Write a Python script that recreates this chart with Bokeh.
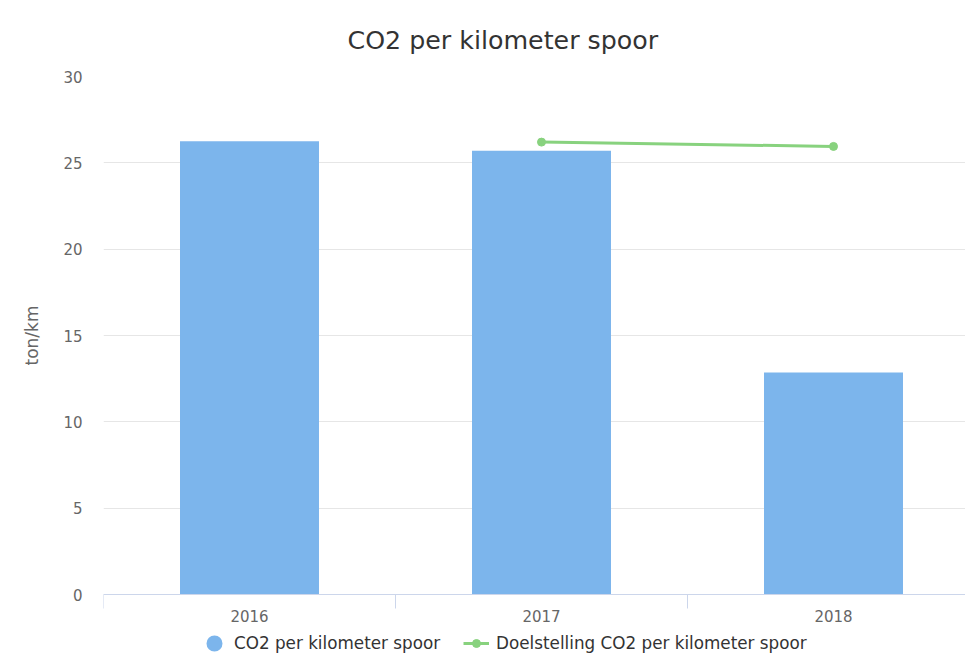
import math
from bokeh.plotting import figure
from bokeh.models import Range1d, FixedTicker, Legend, LegendItem, ColumnDataSource, Span, Title
from bokeh.core.properties import value
from bokeh.embed import file_html
from bokeh.resources import INLINE

# ---- data ----
years = ["2016", "2017", "2018"]
co2_per_km = [26.25, 25.7, 12.85]
target_years = ["2017", "2018"]
target_per_km = [26.2, 25.95]
y_ticks = [0, 5, 10, 15, 20, 25, 30]

FONT = "DejaVu Sans"
BAR_COLOR = "#7cb5ec"
LINE_COLOR = "#88d27e"
AXIS_COLOR = "#ccd6eb"

W, H = 965, 655
LEFT, TOP, BOTTOM = 103, 76, 594   # y=30 at TOP, y=0 at BOTTOM
CAT_W = 292
Y_MAX = 30
px_per_unit = (BOTTOM - TOP) / Y_MAX
y_min = -(H - BOTTOM) / px_per_unit    # frame continues below 0 to hold the legend

bar_x = [years.index(y) + 0.5 for y in years]
line_x = [years.index(y) + 0.5 for y in target_years]
bounds = [i for i in range(len(years) + 1)]

p = figure(width=W, height=H, output_backend="svg", toolbar_location=None,
           x_axis_location=None,
           x_range=Range1d(0, (W - LEFT) / CAT_W), y_range=Range1d(y_min, Y_MAX),
           min_border_left=LEFT, min_border_right=0, min_border_top=TOP,
           min_border_bottom=0)
p.outline_line_color = None
p.background_fill_color = "white"

# title
p.title.text = "CO2 per kilometer spoor"
p.title.text_font = FONT
p.title.text_font_size = "25.3px"
p.title.text_font_style = "normal"
p.title.text_color = "#333333"
p.title.align = "left"
p.title.offset = 244
p.title.standoff = 44

# bars
bar_src = ColumnDataSource(dict(x=bar_x, top=co2_per_km))
bars = p.vbar(x="x", top="top", source=bar_src, width=0.476, fill_color=BAR_COLOR, line_color=None)

# target line
src = ColumnDataSource(dict(x=line_x, y=target_per_km))
ln = p.line("x", "y", source=src, line_color=LINE_COLOR, line_width=3)
pts = p.scatter("x", "y", source=src, marker="circle", size=8, fill_color=LINE_COLOR,
                line_color=LINE_COLOR, line_width=1)

# hidden circle renderer on the bar data, used only for the round legend symbol
sym = p.scatter("x", "top", source=bar_src, marker="circle", size=8, fill_color=BAR_COLOR,
                line_color=BAR_COLOR, line_width=8)
sym.visible = False

# y axis
yax = p.yaxis[0]
yax.ticker = FixedTicker(ticks=y_ticks)
yax.axis_line_color = None
yax.major_tick_line_color = None
yax.minor_tick_line_color = None
yax.major_tick_out = 0
yax.minor_tick_out = 0
yax.major_label_standoff = 21
yax.major_label_text_font = FONT
yax.major_label_text_font_size = "15px"
yax.major_label_text_color = "#666666"

ytitle = Title(text="ton/km", align="left", offset=(H - 365), standoff=37,
               text_font=FONT, text_font_size="17px", text_font_style="normal",
               text_color="#666666")
p.add_layout(ytitle, "left")

p.ygrid.grid_line_color = "#e6e6e6"
p.xgrid.grid_line_color = None

# category axis at y = 0: baseline, boundary ticks and labels
p.add_layout(Span(location=0, dimension="width", line_color=AXIS_COLOR, line_width=1))
p.ray(x=bounds, y=[0] * len(bounds), length=14, length_units="screen", angle=-math.pi / 2,
      line_color=AXIS_COLOR, line_width=1)
p.text(x=bar_x, y=[0] * len(bar_x), text=years, y_offset=21,
       text_align="center", text_baseline="middle",
       text_font=value(FONT), text_font_size=value("15px"), text_color="#666666")

# legend (inside the lower part of the frame, below the axis)
legend = Legend(items=[LegendItem(label="CO2 per kilometer spoor", renderers=[sym]),
                       LegendItem(label="Doelstelling CO2 per kilometer spoor", renderers=[ln, pts])],
                orientation="horizontal", location=(98, 2),
                glyph_width=26, glyph_height=20, label_standoff=7, spacing=23,
                padding=0, margin=0, border_line_color=None, background_fill_alpha=0,
                label_text_font=FONT, label_text_font_size="16.8px", label_text_color="#333333")
p.add_layout(legend)

open("out.html", "w").write(file_html(p, INLINE))
